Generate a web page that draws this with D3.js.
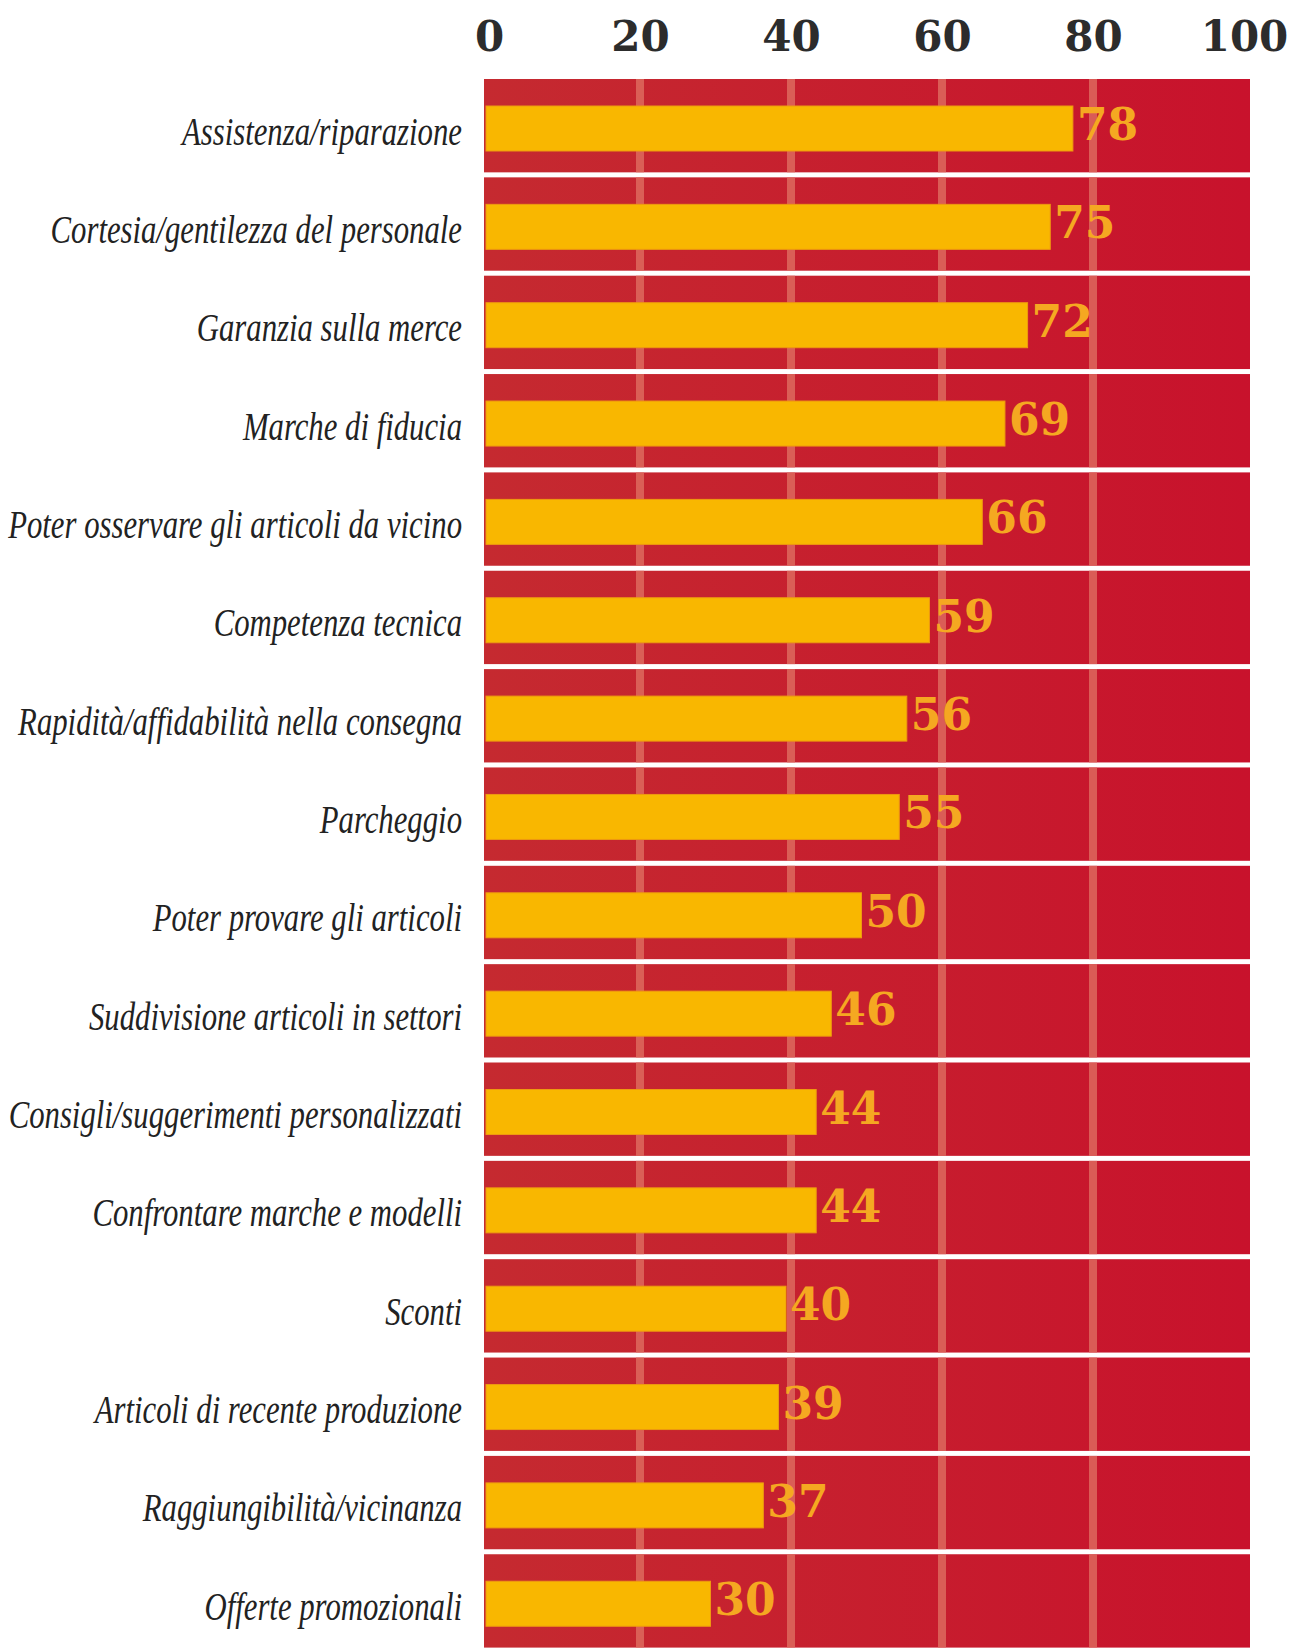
<!DOCTYPE html>
<html>
<head>
<meta charset="utf-8">
<script src="https://cdn.jsdelivr.net/npm/d3@7"></script>
<style>
  html, body { margin: 0; padding: 0; background: #fff; }
  svg { display: block; }
</style>
</head>
<body>
<div id="chart"></div>
<script>
const categories = [
  "Assistenza/riparazione",
  "Cortesia/gentilezza del personale",
  "Garanzia sulla merce",
  "Marche di fiducia",
  "Poter osservare gli articoli da vicino",
  "Competenza tecnica",
  "Rapidità/affidabilità nella consegna",
  "Parcheggio",
  "Poter provare gli articoli",
  "Suddivisione articoli in settori",
  "Consigli/suggerimenti personalizzati",
  "Confrontare marche e modelli",
  "Sconti",
  "Articoli di recente produzione",
  "Raggiungibilità/vicinanza",
  "Offerte promozionali"
];
const values = [78, 75, 72, 69, 66, 59, 56, 55, 50, 46, 44, 44, 40, 39, 37, 30];
const tickValues = [0, 20, 40, 60, 80, 100];

const width = 1306;
const height = 1648;
const rowStep = 98.35;
const panelTop = 79;
const gap = 5;
const gridShift = 5; // printed grid sits a few px right of the bar scale

const svg = d3.select("#chart")
  .append("svg")
  .attr("width", width)
  .attr("height", height);

svg.append("rect")
  .attr("width", width)
  .attr("height", height)
  .attr("fill", "#fff");

// gradient for the red panel (warmer on the left, crimson on the right)
const defs = svg.append("defs");
const grad = defs.append("linearGradient")
  .attr("id", "redGrad")
  .attr("x1", "0").attr("x2", "1").attr("y1", "0").attr("y2", "0");
grad.append("stop").attr("offset", "0%").attr("stop-color", "#c52a30");
grad.append("stop").attr("offset", "100%").attr("stop-color", "#c8122c");

// Scales
const x = d3.scaleLinear()
  .domain([0, 100])
  .range([484, 1239]);

const y = d3.scaleBand()
  .domain(categories)
  .range([panelTop, panelTop + categories.length * rowStep])
  .padding(0);

const panelLeft = x(0);
const panelRight = x(100) + 11;

// Rows (red background bands)
const rows = svg.selectAll(".row")
  .data(categories)
  .enter()
  .append("g")
  .attr("class", "row")
  .attr("transform", d => "translate(0," + y(d) + ")");

rows.append("rect")
  .attr("x", panelLeft)
  .attr("width", panelRight - panelLeft)
  .attr("height", y.bandwidth() - gap)
  .attr("fill", "url(#redGrad)");

// light vertical gridlines inside each row
rows.each(function() {
  d3.select(this).selectAll(".grid")
    .data(tickValues.slice(1, -1))
    .enter()
    .append("rect")
    .attr("class", "grid")
    .attr("x", d => x(d) + gridShift - 4)
    .attr("width", 8)
    .attr("height", y.bandwidth() - gap)
    .attr("fill", "#de6e60")
    .attr("opacity", 0.8);
});

// Bars
const barOffset = 27;
const barHeight = 45;

rows.append("rect")
  .attr("class", "bar")
  .attr("x", x(0) + 2)
  .attr("y", barOffset)
  .attr("width", (d, i) => x(values[i]) - x(0) - 2)
  .attr("height", barHeight)
  .attr("fill", "#f9b700")
  .attr("stroke", "#ee9a10")
  .attr("stroke-width", 1);

// Value labels
rows.append("text")
  .attr("x", (d, i) => x(values[i]) + 4)
  .attr("y", barOffset + 34)
  .attr("font-family", "'DejaVu Serif', serif")
  .attr("font-weight", "bold")
  .attr("font-size", 44)
  .attr("fill", "#f5a821")
  .text((d, i) => values[i]);

// Category labels (condensed italic)
rows.append("text")
  .attr("transform", "translate(" + 462 + "," + (barOffset + barHeight / 2 + 16) + ") scale(0.75,1)")
  .attr("text-anchor", "end")
  .attr("font-family", "'Liberation Serif', 'Times New Roman', serif")
  .attr("font-style", "italic")
  .attr("font-size", 41)
  .attr("fill", "#222")
  .text(d => d);

// Top axis with tick labels
const axis = svg.append("g")
  .attr("transform", "translate(" + gridShift + ",51)")
  .call(d3.axisTop(x).tickValues(tickValues).tickSize(0).tickPadding(0));

axis.select(".domain").remove();
axis.selectAll("text")
  .attr("font-family", "'DejaVu Serif', serif")
  .attr("font-weight", "bold")
  .attr("font-size", 42)
  .attr("fill", "#2c2c2c")
  .attr("dy", 0);
</script>
</body>
</html>
